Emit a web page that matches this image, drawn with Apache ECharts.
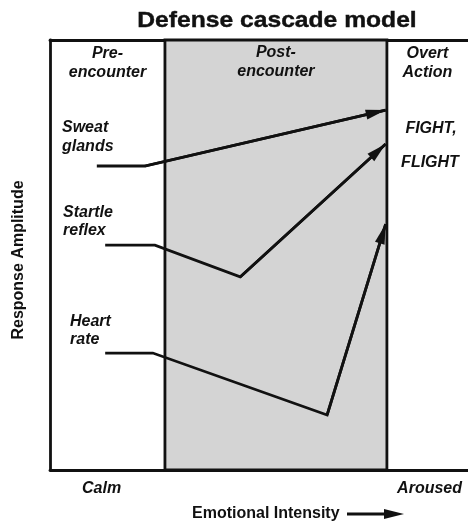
<!DOCTYPE html>
<html>
<head>
<meta charset="utf-8">
<script src="https://cdn.jsdelivr.net/npm/echarts@6/dist/echarts.min.js"></script>
<style>html,body{margin:0;padding:0;background:#fff}#c{width:468px;height:524px}</style>
</head>
<body>
<div id="c"></div>
<script>
// ---- data ----
const phaseNames = ['Pre-\nencounter', 'Post-\nencounter', 'Overt\nAction'];
const phaseBounds = [0, 27.5, 80.6, 100];
const sweatX = [11.2, 22.7, 80.3];
const sweatY = [70.7, 70.7, 83.7];
const startleX = [13.2, 25.1, 45.5, 80.3];
const startleY = [52.3, 52.3, 44.9, 75.8];
const heartX = [13.2, 24.6, 66.3, 80.3];
const heartY = [27.2, 27.2, 12.8, 57.2];
const seriesNames = ['Sweat glands', 'Startle reflex', 'Heart rate'];
const outcomeLines = ['FIGHT,', 'FLIGHT'];
const xEnds = ['Calm', 'Aroused'];
const xTitle = 'Emotional Intensity';
const yTitle = 'Response Amplitude';
const chartTitle = 'Defense cascade model';

const FONT = "'Liberation Sans', Arial, Helvetica, sans-serif";
const INK = '#111';
const LW = 2.8;

function pts(xs, ys) { return xs.map((x, i) => [x, ys[i]]); }

function curve(name, xs, ys) {
  const d = pts(xs, ys);
  const n = d.length;
  return {
    name: name, type: 'line', data: d, showSymbol: false, silent: true,
    animation: false, z: 5,
    lineStyle: { color: INK, width: LW, join: 'miter', cap: 'butt' },
    emphasis: { disabled: true },
    markLine: {
      silent: true, animation: false,
      symbol: ['none', 'triangle'], symbolSize: [10, 20], symbolOffset: [0, [0, 10]],
      label: { show: false },
      lineStyle: { color: INK, width: LW, type: 'solid' },
      emphasis: { disabled: true },
      data: [[{ coord: d[n - 2] }, { coord: d[n - 1] }]]
    }
  };
}

const areaData = phaseNames.map((nm, i) => [
  {
    name: nm, xAxis: phaseBounds[i],
    itemStyle: i === 1
      ? { color: '#d4d4d4', borderColor: INK, borderWidth: LW }
      : { color: 'rgba(0,0,0,0)' }
  },
  { xAxis: phaseBounds[i + 1] }
]);

const labelStyle = { fill: INK, font: 'italic bold 16px ' + FONT, textAlign: 'left', textVerticalAlign: 'middle' };

function textEl(txt, x, y, extra) {
  return { type: 'text', x: x, y: y, silent: true, z: 20,
    style: Object.assign({ text: txt }, labelStyle, (extra || {})) };
}

const option = {
  backgroundColor: '#fff',
  animation: false,
  grid: { left: 50, right: 0, top: 40, bottom: 54 },
  xAxis: [
    { type: 'value', min: 0, max: 100, position: 'bottom',
      axisLine: { show: true, onZero: false, lineStyle: { color: INK, width: LW } },
      axisTick: { show: false }, axisLabel: { show: false }, splitLine: { show: false } },
    { type: 'value', min: 0, max: 100, position: 'top',
      axisLine: { show: true, onZero: false, lineStyle: { color: INK, width: LW } },
      axisTick: { show: false }, axisLabel: { show: false }, splitLine: { show: false } }
  ],
  yAxis: { type: 'value', min: 0, max: 100,
    axisLine: { show: true, onZero: false, lineStyle: { color: INK, width: LW } },
    axisTick: { show: false }, axisLabel: { show: false }, splitLine: { show: false } },
  series: [
    { name: 'phases', type: 'line', data: [], silent: true, z: 1,
      markArea: {
        silent: true, animation: false,
        label: { show: true, position: 'insideTop', distance: 4, color: INK,
          fontFamily: FONT, fontSize: 16, fontStyle: 'italic', fontWeight: 'bold', lineHeight: 19 },
        emphasis: { disabled: true },
        data: areaData
      }
    },
    curve(seriesNames[0], sweatX, sweatY),
    curve(seriesNames[1], startleX, startleY),
    curve(seriesNames[2], heartX, heartY)
  ],
  graphic: [
    { type: 'text', x: 277, y: 21, scaleX: 1.12, silent: true,
      style: { text: chartTitle, fill: INK, font: 'bold 22px ' + FONT, textAlign: 'center', textVerticalAlign: 'middle',
        stroke: INK, lineWidth: 0.4 } },
    textEl('Sweat', 62, 128), textEl('glands', 62, 147),
    textEl('Startle', 63, 213), textEl('reflex', 63, 231),
    textEl('Heart', 70, 322), textEl('rate', 70, 340),
    textEl(outcomeLines[0], 431, 129, { textAlign: 'center' }),
    textEl(outcomeLines[1], 430, 163, { textAlign: 'center' }),
    textEl(xEnds[0], 82, 489),
    textEl(xEnds[1], 462, 489, { textAlign: 'right' }),
    { type: 'text', x: 192, y: 514, silent: true,
      style: { text: xTitle, fill: INK, font: 'bold 16px ' + FONT, textAlign: 'left', textVerticalAlign: 'middle' } },
    { type: 'line', silent: true, shape: { x1: 347, y1: 514, x2: 388, y2: 514 }, style: { stroke: INK, lineWidth: 3 } },
    { type: 'polygon', silent: true, shape: { points: [[384, 509], [404, 514], [384, 519]] }, style: { fill: INK } },
    { type: 'text', x: 19, y: 260, rotation: Math.PI / 2, silent: true,
      style: { text: yTitle, fill: INK, font: 'bold 16px ' + FONT, textAlign: 'center', textVerticalAlign: 'middle' } }
  ]
};

const chart = echarts.init(document.getElementById('c'), null, { renderer: 'canvas' });
chart.setOption(option);
</script>
</body>
</html>
